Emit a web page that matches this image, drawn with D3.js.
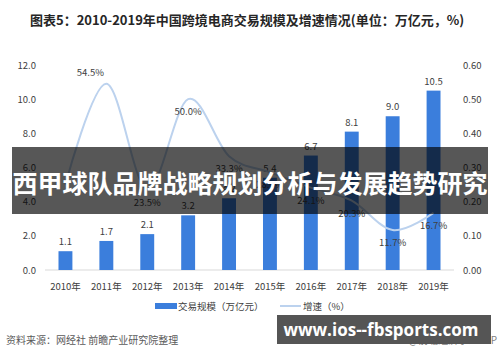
<!DOCTYPE html>
<html>
<head>
<meta charset="utf-8">
<script src="https://cdn.jsdelivr.net/npm/d3@7"></script>
<style>
  body { margin: 0; background: #fff; }
  svg { display: block; font-family: "Noto Sans CJK SC", "Noto Sans", sans-serif; }
</style>
</head>
<body>
<div id="chart"></div>
<script>
const years = ['2010年', '2011年', '2012年', '2013年', '2014年', '2015年', '2016年', '2017年', '2018年', '2019年'];
const scale = [1.1, 1.7, 2.1, 3.2, 4.2, 5.4, 6.7, 8.1, 9.0, 10.5];
const growth = [0.25, 0.545, 0.235, 0.50, 0.333, 0.286, 0.241, 0.203, 0.117, 0.167];
const growthLabels = ['', '54.5%', '23.5%', '50.0%', '33.3%', '28.6%', '24.1%', '20.3%', '11.7%', '16.7%'];
const leftTicks = [0, 2, 4, 6, 8, 10, 12];
const rightTicks = [0, 0.1, 0.2, 0.3, 0.4, 0.5, 0.6];

const width = 500;
const height = 362;
const plot = { left: 45, right: 454, top: 65, bottom: 270 };
const barColor = '#3b7edc';
const lineColor = '#bcd2ee';
const textColor = '#404040';

const svg = d3.select('#chart')
  .append('svg')
  .attr('width', width)
  .attr('height', height);

// title
svg.append('text')
  .attr('x', 30)
  .attr('y', 25)
  .attr('font-size', 13)
  .attr('font-weight', 'bold')
  .attr('fill', '#262626')
  .text('图表5：2010-2019年中国跨境电商交易规模及增速情况(单位：万亿元，%)');

const x = d3.scaleBand()
  .domain(years)
  .range([plot.left, plot.right])
  .paddingInner(0.66)
  .paddingOuter(0.33);
const yLeft = d3.scaleLinear().domain([0, 12]).range([plot.bottom, plot.top]);
const yRight = d3.scaleLinear().domain([0, 0.6]).range([plot.bottom, plot.top]);
const cx = d => x(d) + x.bandwidth() / 2;

// axes
const leftAxis = svg.append('g')
  .attr('transform', `translate(${plot.left - 5},0)`)
  .call(d3.axisLeft(yLeft).tickValues(leftTicks).tickFormat(d3.format('.1f')).tickSize(0).tickPadding(4));
const rightAxis = svg.append('g')
  .attr('transform', `translate(${plot.right + 5},0)`)
  .call(d3.axisRight(yRight).tickValues(rightTicks).tickFormat(d3.format('.2f')).tickSize(0).tickPadding(4));
const bottomAxis = svg.append('g')
  .attr('transform', `translate(0,${plot.bottom + 6})`)
  .call(d3.axisBottom(x).tickSize(0).tickPadding(7));

[leftAxis, rightAxis, bottomAxis].forEach(axis => {
  axis.select('.domain').remove();
  axis.selectAll('text')
    .attr('font-size', 9.5)
    .attr('fill', textColor)
    .attr('font-family', '"Noto Sans CJK SC", sans-serif');
});

svg.append('line')
  .attr('x1', plot.left)
  .attr('x2', plot.right)
  .attr('y1', yLeft(0))
  .attr('y2', yLeft(0))
  .attr('stroke', '#d9d9d9')
  .attr('stroke-width', 1);

// bars
svg.selectAll('rect.bar')
  .data(scale)
  .join('rect')
  .attr('class', 'bar')
  .attr('x', (d, i) => x(years[i]))
  .attr('width', x.bandwidth())
  .attr('y', d => yLeft(d))
  .attr('height', d => yLeft(0) - yLeft(d))
  .attr('fill', barColor);

svg.selectAll('text.bar-label')
  .data(scale)
  .join('text')
  .attr('class', 'bar-label')
  .attr('x', (d, i) => cx(years[i]))
  .attr('y', d => yLeft(d) - 6)
  .attr('text-anchor', 'middle')
  .attr('font-size', 9.5)
  .attr('fill', textColor)
  .text(d => d.toFixed(1));

// growth line
const line = d3.line()
  .x((d, i) => cx(years[i]))
  .y(d => yRight(d))
  .curve(d3.curveCardinal.tension(0));

svg.append('path')
  .datum(growth)
  .attr('d', line)
  .attr('fill', 'none')
  .attr('stroke', lineColor)
  .attr('stroke-width', 2);

// labels sit below the points, except the peak one
const maxGrowth = d3.max(growth);
svg.selectAll('text.growth-label')
  .data(growth)
  .join('text')
  .attr('class', 'growth-label')
  .attr('x', (d, i) => cx(years[i]) - (d === maxGrowth ? 16 : 0))
  .attr('y', d => yRight(d) + (d === maxGrowth ? -8 : 16))
  .attr('text-anchor', 'middle')
  .attr('font-size', 9.5)
  .attr('fill', textColor)
  .text((d, i) => growthLabels[i]);

// legend
const legend = svg.append('g').attr('transform', 'translate(155,306)');
legend.append('rect')
  .attr('x', 0).attr('y', -3).attr('width', 22).attr('height', 6)
  .attr('fill', barColor);
legend.append('text')
  .attr('x', 23).attr('y', 3.5)
  .attr('font-size', 9.5).attr('fill', textColor)
  .text('交易规模（万亿元）');
legend.append('line')
  .attr('x1', 125).attr('x2', 146).attr('y1', 0).attr('y2', 0)
  .attr('stroke', lineColor).attr('stroke-width', 2);
legend.append('text')
  .attr('x', 148).attr('y', 3.5)
  .attr('font-size', 9.5).attr('fill', textColor)
  .text('增速（%）');

// source
svg.append('text')
  .attr('x', 6)
  .attr('y', 344)
  .attr('font-size', 10)
  .attr('fill', '#595959')
  .text('资料来源：网经社 前瞻产业研究院整理');
svg.append('text')
  .attr('x', 497)
  .attr('y', 344)
  .attr('text-anchor', 'end')
  .attr('font-size', 10)
  .attr('fill', '#7f7f7f')
  .text('@前瞻经济学人APP');

// overlay banner
svg.append('rect')
  .attr('x', 12).attr('y', 147).attr('width', 476).attr('height', 67)
  .attr('fill', 'rgba(0,0,0,0.66)');
svg.append('text')
  .attr('x', 250).attr('y', 193)
  .attr('text-anchor', 'middle')
  .attr('font-size', 25)
  .attr('font-weight', 'bold')
  .attr('fill', '#fff')
  .text('西甲球队品牌战略规划分析与发展趋势研究');

// site box
svg.append('rect')
  .attr('x', 277).attr('y', 315).attr('width', 214).attr('height', 29)
  .attr('fill', '#555555');
svg.append('text')
  .attr('x', 381).attr('y', 336)
  .attr('text-anchor', 'middle')
  .attr('font-size', 17)
  .attr('font-weight', 'bold')
  .attr('font-family', '"Open Sans", "Noto Sans", sans-serif')
  .attr('fill', '#fff')
  .text('www.ios--fbsports.com');
</script>
</body>
</html>
